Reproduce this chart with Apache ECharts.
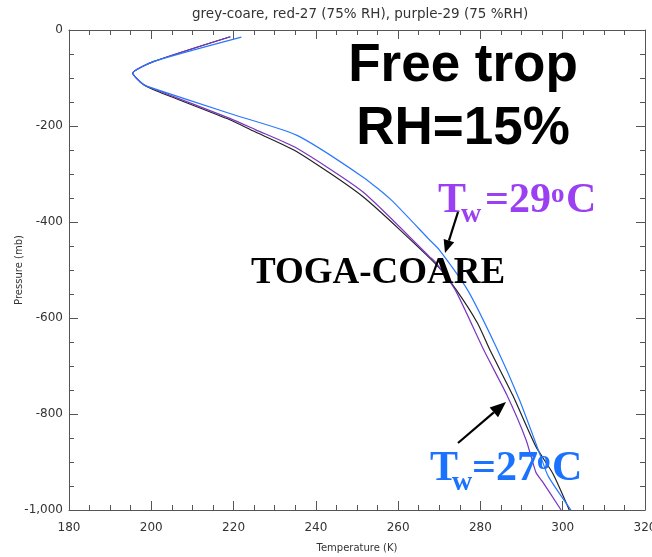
<!DOCTYPE html>
<html>
<head>
<meta charset="utf-8">
<script src="https://cdn.jsdelivr.net/npm/echarts@6/dist/echarts.min.js"></script>
<style>html,body{margin:0;padding:0;background:#fff;}#c{width:652px;height:557px;}</style>
</head>
<body>
<div id="c"></div>
<script>
// ---- data (temperature in K, pressure in mb as negative values) ----
const titleText = 'grey-coare, red-27 (75% RH), purple-29 (75 %RH)';
const xTicks = [180, 200, 220, 240, 260, 280, 300, 320];
const yTicks = [-1000, -800, -600, -400, -200, 0];

const coareT = [219.2, 200.5, 195.5, 198.0, 201.3, 219.1, 224.7, 235.3, 251.4, 269.2, 274.0, 279.3, 282.5, 287.8, 293.5, 297.6, 301.6];
const coareP = [-14, -66, -90, -113, -127, -187, -210, -253, -347, -488, -540, -611, -670, -760, -868, -924, -1000];

const tw27T = [221.9, 200.5, 195.5, 198.0, 199.2, 219.1, 235.3, 251.4, 258.3, 267.6, 270.0, 276.9, 283.8, 289.5, 294.5, 296.5, 302.0];
const tw27P = [-15, -66, -90, -113, -118, -174, -219, -306, -354, -437, -458, -542, -660, -771, -885, -930, -1000];

const tw29T = [219.2, 200.5, 195.5, 198.0, 201.3, 219.1, 225.4, 235.3, 251.4, 267.6, 269.2, 273.9, 281.0, 286.4, 291.1, 293.5, 295.0, 299.6];
const tw29P = [-14, -66, -90, -113, -125, -184, -208, -246, -337, -472, -485, -542, -670, -760, -854, -922, -940, -1000];

function pairs(t, p) { return t.map((v, i) => [v, p[i]]); }

const axisColor = '#555';
const labelColor = '#333';

function txt(x, y, s, font, color, align) {
  return { type: 'text', x: x, y: y, z: 100,
    style: { text: s, font: font, fill: color, align: align || 'left', verticalAlign: 'middle' } };
}
function arrow(x1, y1, x2, y2, len, wid) {
  const dx = x2 - x1, dy = y2 - y1, L = Math.hypot(dx, dy);
  const ux = dx / L, uy = dy / L, px = -uy, py = ux;
  const bx = x2 - ux * len, by = y2 - uy * len;
  return [
    { type: 'line', z: 100, shape: { x1: x1, y1: y1, x2: bx, y2: by }, style: { stroke: '#000', lineWidth: 2.2 } },
    { type: 'polygon', z: 100, shape: { points: [[x2, y2], [bx + px * wid / 2, by + py * wid / 2], [bx - px * wid / 2, by - py * wid / 2]] }, style: { fill: '#000' } }
  ];
}

const serifB = (s) => 'bold ' + s + 'px "Liberation Serif", "DejaVu Serif", serif';
const sansB = (s) => 'bold ' + s + 'px "Liberation Sans", Arial, sans-serif';
const purpleLbl = '#9b3ff2';
const blueLbl = '#1a72ff';

const graphics = [].concat(
  [txt(463, 66, 'Free trop', sansB(53), '#000', 'center'),
   txt(463, 129, 'RH=15%', sansB(53), '#000', 'center'),
   txt(438, 201, 'T', serifB(42), purpleLbl),
   txt(461, 215, 'w', serifB(28), purpleLbl),
   txt(485, 201, '=29', serifB(42), purpleLbl),
   txt(551, 195, 'o', serifB(27), purpleLbl),
   txt(566, 201, 'C', serifB(42), purpleLbl),
   txt(251, 273, 'TOGA-COARE', serifB(37), '#000'),
   txt(430, 469, 'T', serifB(42), blueLbl),
   txt(452, 483, 'w', serifB(28), blueLbl),
   txt(472, 469, '=27', serifB(42), blueLbl),
   txt(537, 462, 'o', serifB(27), blueLbl),
   txt(552, 469, 'C', serifB(42), blueLbl)],
  arrow(458, 212, 445, 253, 13, 11),
  arrow(458, 443, 506, 402, 16, 13)
);

function xAxisBase(pos, showLabels) {
  return {
    type: 'value', position: pos, min: xTicks[0], max: xTicks[xTicks.length - 1], interval: 20,
    axisLine: { show: true, onZero: false, lineStyle: { color: axisColor, width: 1 } },
    axisTick: { show: true, inside: true, length: 9, lineStyle: { color: axisColor } },
    minorTick: { show: true, splitNumber: 4, length: 5, lineStyle: { color: axisColor } },
    splitLine: { show: false },
    axisLabel: { show: showLabels, margin: 12, fontSize: 12, color: labelColor, fontFamily: 'DejaVu Sans', hideOverlap: false }
  };
}
function yAxisBase(pos, showLabels) {
  return {
    type: 'value', position: pos, min: yTicks[0], max: yTicks[yTicks.length - 1], interval: 200,
    axisLine: { show: true, onZero: false, lineStyle: { color: axisColor, width: 1 } },
    axisTick: { show: true, inside: true, length: 9, lineStyle: { color: axisColor } },
    minorTick: { show: true, splitNumber: 4, length: 5, lineStyle: { color: axisColor } },
    splitLine: { show: false },
    axisLabel: { show: showLabels, margin: 6, fontSize: 12, color: labelColor, fontFamily: 'DejaVu Sans' }
  };
}

const xb = Object.assign(xAxisBase('bottom', true), {
  name: 'Temperature (K)', nameLocation: 'middle', nameGap: 33, nameMoveOverlap: false,
  nameTextStyle: { fontSize: 10, color: labelColor, fontFamily: 'DejaVu Sans' }
});
const yl = Object.assign(yAxisBase('left', true), {
  name: 'Pressure (mb)', nameLocation: 'middle', nameGap: 45, nameMoveOverlap: false,
  nameTextStyle: { fontSize: 10, color: labelColor, fontFamily: 'DejaVu Sans' }
});

const chart = echarts.init(document.getElementById('c'), null, { renderer: 'canvas' });
chart.setOption({
  animation: false,
  backgroundColor: '#fff',
  title: { text: titleText, left: 187, top: 2,
    textStyle: { fontSize: 13.5, fontWeight: 'normal', color: labelColor, fontFamily: 'DejaVu Sans' } },
  grid: { left: 69, right: 7, top: 30, bottom: 47, containLabel: false, outerBoundsMode: 'none' },
  xAxis: [xb, xAxisBase('top', false)],
  yAxis: [yl, yAxisBase('right', false)],
  series: [
    { name: 'coare', type: 'line', data: pairs(coareT, coareP), showSymbol: false, symbol: 'none', smooth: 0.2,
      lineStyle: { color: '#222', width: 1.2 }, z: 2 },
    { name: '29', type: 'line', data: pairs(tw29T, tw29P), showSymbol: false, symbol: 'none', smooth: 0.2,
      lineStyle: { color: '#7a35c2', width: 1.2 }, z: 3 },
    { name: '27', type: 'line', data: pairs(tw27T, tw27P), showSymbol: false, symbol: 'none', smooth: 0.2,
      lineStyle: { color: '#2a78ff', width: 1.2 }, z: 4 }
  ],
  graphic: graphics
});
</script>
</body>
</html>
